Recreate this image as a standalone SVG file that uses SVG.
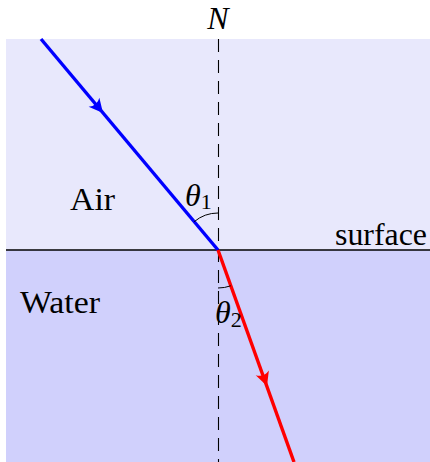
<svg xmlns="http://www.w3.org/2000/svg" width="430" height="462" viewBox="0 0 430 462">
<style>
.t{font-family:"Liberation Serif","Times New Roman",serif;font-size:32px;fill:#000}
.i{font-style:italic}
.s{font-size:22px}
</style>
<defs>
<path id="ah" d="M0 0 L-14 -7 Q-9 0 -14 7 Z"/>
</defs>
<g id="media">
<rect id="air" x="6" y="39" width="424" height="211" fill="#e8e8fc"/>
<rect id="water" x="6" y="250" width="424" height="212" fill="#d0d0fc"/>
</g>
<g id="connectors">
<line id="normal" x1="218.5" y1="39" x2="218.5" y2="462" stroke="#000" stroke-width="1.1" stroke-dasharray="13 8"/>
<line id="surface-line" x1="6" y1="250" x2="430" y2="250" stroke="#000" stroke-width="1.6"/>
<line id="incident" x1="41" y1="39" x2="218" y2="250" stroke="#0000ff" stroke-width="3.4"/>
<use href="#ah" fill="#0000ff" transform="translate(103,113) rotate(50)"/>
<line id="refracted" x1="218" y1="250" x2="294" y2="462" stroke="#ff0000" stroke-width="3.4"/>
<use href="#ah" fill="#ff0000" transform="translate(267,386) rotate(70.3)"/>
<path id="arc1" d="M218 213 A37 37 0 0 0 194.2 221.7" fill="none" stroke="#000" stroke-width="1"/>
<path id="arc2" d="M218 288 A38 38 0 0 0 230.8 285.8" fill="none" stroke="#000" stroke-width="1"/>
</g>
<g id="labels">
<text class="t i" x="218" y="29" text-anchor="middle">N</text>
<text class="t" x="70" y="210" textLength="45" lengthAdjust="spacingAndGlyphs">Air</text>
<text class="t" x="335" y="245" textLength="92" lengthAdjust="spacingAndGlyphs">surface</text>
<text class="t" x="20" y="313" textLength="80" lengthAdjust="spacingAndGlyphs">Water</text>
<text class="t" x="185" y="206"><tspan class="i">θ</tspan><tspan class="s" dy="3">1</tspan></text>
<text class="t" x="215" y="323"><tspan class="i">θ</tspan><tspan class="s" dy="4">2</tspan></text>
</g>
</svg>
